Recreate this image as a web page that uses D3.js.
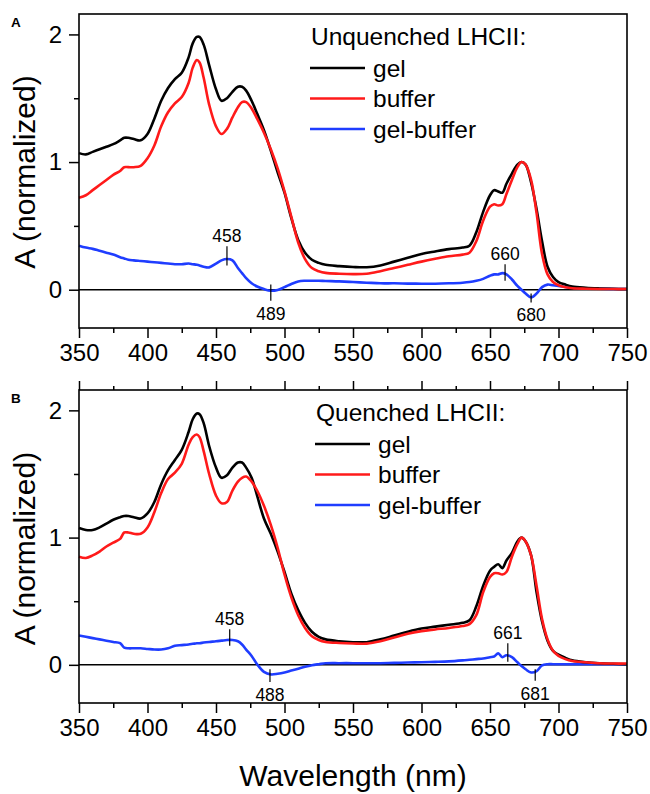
<!DOCTYPE html>
<html>
<head>
<meta charset="utf-8">
<script src="https://cdn.jsdelivr.net/npm/d3@7"></script>
<style>
	html, body { margin: 0; padding: 0; background: #fff; }
	svg { display: block; font-family: "Liberation Sans", Arial, sans-serif; }
</style>
</head>
<body>
<svg id="chart" width="650" height="794"></svg>
<script>
// wavelength grid (nm) shared by all traces
const wavelengths = [350,355,360,365,370,375,380,383,386,390,395,400,405,410,415,420,425,430,433,436,438,441,445,450,454,458,462,466,469,472,476,480,485,490,495,500,505,510,515,520,525,530,540,550,560,570,580,590,600,610,620,630,635,640,645,650,653,656,659,662,666,670,673,676,680,684,688,692,696,700,705,710,720,730,740,750];

// panel A - unquenched
const unqGel = [1.07,1.06,1.08,1.10,1.12,1.14,1.17,1.19,1.19,1.18,1.17,1.22,1.34,1.48,1.58,1.65,1.70,1.82,1.93,1.98,1.98,1.92,1.76,1.57,1.48,1.50,1.55,1.59,1.59,1.56,1.48,1.38,1.25,1.09,0.92,0.76,0.56,0.39,0.29,0.235,0.21,0.195,0.185,0.178,0.176,0.19,0.22,0.25,0.28,0.30,0.318,0.33,0.345,0.45,0.61,0.74,0.78,0.77,0.76,0.83,0.91,0.98,1.00,0.98,0.84,0.63,0.38,0.18,0.10,0.06,0.04,0.025,0.015,0.01,0.007,0.005];
const unqBuffer = [0.72,0.74,0.78,0.82,0.86,0.90,0.93,0.96,0.96,0.96,0.97,1.03,1.13,1.28,1.39,1.46,1.51,1.62,1.74,1.80,1.78,1.66,1.45,1.28,1.22,1.26,1.35,1.43,1.47,1.47,1.42,1.34,1.23,1.10,0.95,0.77,0.57,0.37,0.24,0.17,0.145,0.132,0.125,0.122,0.125,0.145,0.17,0.195,0.22,0.242,0.262,0.275,0.29,0.38,0.54,0.65,0.67,0.66,0.67,0.75,0.86,0.96,1.00,0.98,0.86,0.60,0.28,0.12,0.06,0.035,0.02,0.012,0.008,0.006,0.005,0.005];
const unqDiff = [0.345,0.33,0.32,0.305,0.29,0.275,0.255,0.245,0.235,0.23,0.225,0.22,0.215,0.21,0.205,0.20,0.20,0.205,0.20,0.195,0.19,0.18,0.175,0.205,0.23,0.24,0.23,0.17,0.13,0.09,0.05,0.025,0.005,-0.008,-0.002,0.02,0.045,0.065,0.07,0.07,0.07,0.068,0.065,0.06,0.055,0.05,0.05,0.048,0.047,0.047,0.05,0.055,0.06,0.07,0.085,0.11,0.12,0.12,0.13,0.12,0.08,0.03,0.0,-0.03,-0.06,-0.03,0.02,0.04,0.035,0.03,0.022,0.015,0.01,0.008,0.006,0.005];

// panel B - quenched
const qGel = [1.075,1.06,1.06,1.08,1.11,1.14,1.16,1.17,1.17,1.16,1.15,1.19,1.28,1.42,1.53,1.61,1.69,1.83,1.93,1.975,1.97,1.90,1.72,1.55,1.47,1.49,1.55,1.59,1.59,1.55,1.47,1.33,1.15,1.03,0.89,0.73,0.56,0.43,0.33,0.26,0.22,0.20,0.185,0.178,0.178,0.20,0.23,0.26,0.285,0.30,0.315,0.33,0.35,0.46,0.62,0.74,0.77,0.79,0.76,0.82,0.88,0.97,1.00,0.97,0.86,0.57,0.34,0.19,0.11,0.08,0.055,0.035,0.02,0.012,0.008,0.005];
const qBuffer = [0.85,0.84,0.86,0.89,0.93,0.96,0.99,1.04,1.04,1.03,1.03,1.08,1.20,1.35,1.46,1.51,1.58,1.73,1.79,1.81,1.79,1.68,1.50,1.33,1.27,1.28,1.37,1.44,1.47,1.48,1.44,1.37,1.25,1.10,0.92,0.71,0.53,0.39,0.29,0.225,0.195,0.18,0.172,0.168,0.167,0.185,0.215,0.245,0.265,0.278,0.29,0.305,0.32,0.39,0.57,0.69,0.72,0.72,0.71,0.73,0.85,0.95,1.00,0.97,0.86,0.62,0.36,0.20,0.11,0.07,0.045,0.03,0.02,0.012,0.01,0.01];
const qDiff = [0.23,0.22,0.21,0.20,0.19,0.18,0.17,0.135,0.13,0.13,0.13,0.125,0.12,0.12,0.13,0.15,0.155,0.16,0.165,0.17,0.17,0.175,0.18,0.185,0.19,0.195,0.195,0.185,0.16,0.12,0.07,0.005,-0.055,-0.075,-0.07,-0.06,-0.045,-0.03,-0.015,-0.003,0.005,0.012,0.013,0.013,0.013,0.013,0.015,0.018,0.02,0.023,0.027,0.035,0.04,0.045,0.05,0.06,0.065,0.09,0.06,0.075,0.06,0.02,-0.01,-0.035,-0.06,-0.05,-0.005,0.005,0.005,0.005,0.005,0.005,0.005,0.005,0.005,0.005];

const seriesNames = ["gel", "buffer", "gel-buffer"];
const seriesColors = ["#000000", "#ff1a1a", "#1f3dff"];

// peak markers: [label, wavelength, tick bottom, tick top, side]
const unqPeaks = [["458", 458, 0.19, 0.34, "above"], ["489", 490, -0.086, 0.04, "below"], ["660", 661, 0.07, 0.2, "above"], ["680", 680, -0.1, -0.03, "below"]];
const qPeaks = [["458", 460, 0.15, 0.28, "above"], ["488", 489.4, -0.135, -0.035, "below"], ["661", 663, 0.025, 0.17, "above"], ["681", 683, -0.125, -0.035, "below"]];

const xTicks = [350, 400, 450, 500, 550, 600, 650, 700, 750];
const xMinor = [375, 425, 475, 525, 575, 625, 675, 725];
const yTicks = [0, 1, 2];
const yMinor = [0.5, 1.5];

const left = 79, right = 627;
const svg = d3.select("#chart");

const x = d3.scaleLinear().domain([350, 750]).range([left, right]);

function drawPanel(opts) {
	const { top, bottom, tag, title, traces, peaks, topTicks } = opts;
	const y = d3.scaleLinear().domain([-0.3, 2.16]).range([bottom, top]);
	const g = svg.append("g");

	// zero line
	g.append("line")
		.attr("x1", left).attr("x2", right)
		.attr("y1", y(0)).attr("y2", y(0))
		.attr("stroke", "#000").attr("stroke-width", 1.5);

	const line = d3.line()
		.x((d) => x(d[0]))
		.y((d) => y(d[1]))
		.curve(d3.curveCatmullRom.alpha(0.5));

	// diff first, then gel, red on top
	[2, 0, 1].forEach((i) => {
		const pts = wavelengths.map((w, k) => [w, traces[i][k]]);
		g.append("path")
			.datum(pts)
			.attr("d", line)
			.attr("fill", "none")
			.attr("stroke", seriesColors[i])
			.attr("stroke-width", 2.6)
			.attr("stroke-linejoin", "round");
	});

	// peak markers
	peaks.forEach(([label, nm, lo, hi, side]) => {
		g.append("line")
			.attr("x1", x(nm)).attr("x2", x(nm))
			.attr("y1", y(lo)).attr("y2", y(hi))
			.attr("stroke", "#000").attr("stroke-width", 1.2);
		g.append("text")
			.attr("x", x(nm))
			.attr("y", side === "above" ? y(hi) - 4 : y(lo) + 19)
			.attr("text-anchor", "middle")
			.attr("font-size", 17.5)
			.text(label);
	});

	// frame
	g.append("rect")
		.attr("x", left).attr("y", top)
		.attr("width", right - left).attr("height", bottom - top)
		.attr("fill", "none").attr("stroke", "#000").attr("stroke-width", 1.6);

	// x axis
	g.append("g")
		.attr("transform", `translate(0,${bottom})`)
		.call(d3.axisBottom(x).tickValues(xTicks).tickSize(10).tickPadding(6).tickFormat(d3.format("d")));
	g.append("g")
		.attr("transform", `translate(0,${bottom})`)
		.call(d3.axisBottom(x).tickValues(xMinor).tickSize(5).tickFormat(""));

	if (topTicks) {
		g.append("g")
			.attr("transform", `translate(0,${top})`)
			.call(d3.axisTop(x).tickValues(xTicks).tickSize(9).tickFormat(""));
		g.append("g")
			.attr("transform", `translate(0,${top})`)
			.call(d3.axisTop(x).tickValues(xMinor).tickSize(4).tickFormat(""));
	}

	// y axis
	g.append("g")
		.attr("transform", `translate(${left},0)`)
		.call(d3.axisLeft(y).tickValues(yTicks).tickSize(10).tickPadding(7).tickFormat(d3.format("d")));
	g.append("g")
		.attr("transform", `translate(${left},0)`)
		.call(d3.axisLeft(y).tickValues(yMinor).tickSize(5).tickFormat(""));

	g.selectAll(".domain").remove();
	g.selectAll(".tick line").attr("stroke", "#000").attr("stroke-width", 1.5);
	g.selectAll(".tick text")
		.attr("fill", "#000")
		.attr("font-size", 24)
		.attr("font-family", "Liberation Sans, Arial, sans-serif");

	// y label
	g.append("text")
		.attr("transform", `translate(35,${(top + bottom) / 2 + opts.labelShift}) rotate(-90)`)
		.attr("text-anchor", "middle")
		.attr("font-size", 30)
		.text("A (normalized)");

	// panel tag
	g.append("text")
		.attr("x", 11).attr("y", top + 13)
		.attr("font-size", 13.5)
		.attr("font-weight", "bold")
		.text(tag);

	// legend
	const lg = g.append("g").attr("transform", `translate(${opts.legendX},${top})`);
	lg.append("text")
		.attr("x", 1).attr("y", 31)
		.attr("font-size", 24.5)
		.text(title);
	seriesNames.forEach((name, i) => {
		const ly = 54 + i * 30.5;
		lg.append("line")
			.attr("x1", 0).attr("x2", 55)
			.attr("y1", ly).attr("y2", ly)
			.attr("stroke", seriesColors[i]).attr("stroke-width", 2.6);
		lg.append("text")
			.attr("x", 63).attr("y", ly + 8.5)
			.attr("font-size", 24.5)
			.text(name);
	});
}

drawPanel({
	top: 14, bottom: 328, tag: "A", title: "Unquenched LHCII:",
	traces: [unqGel, unqBuffer, unqDiff], peaks: unqPeaks, topTicks: false, legendX: 310, labelShift: 1
});

drawPanel({
	top: 390, bottom: 703, tag: "B", title: "Quenched LHCII:",
	traces: [qGel, qBuffer, qDiff], peaks: qPeaks, topTicks: true, legendX: 315, labelShift: 2
});

// shared x label
svg.append("text")
	.attr("x", (left + right) / 2)
	.attr("y", 786)
	.attr("text-anchor", "middle")
	.attr("font-size", 30)
	.text("Wavelength (nm)");
</script>
</body>
</html>
